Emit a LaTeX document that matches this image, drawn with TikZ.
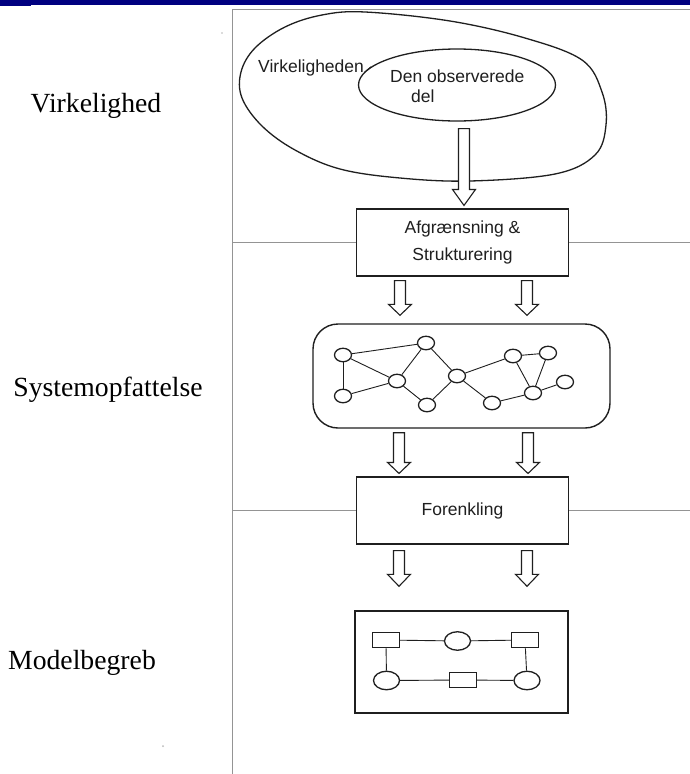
\documentclass[tikz,border=0pt]{standalone}
\usepackage{fontspec}
\setmainfont{Liberation Serif}
\newfontfamily\diagfont{Liberation Sans}
\usetikzlibrary{shapes.geometric,calc}

\definecolor{barnavy}{RGB}{0,0,128}
\definecolor{framegray}{gray}{0.58}
\definecolor{inkgray}{gray}{0.12}

\tikzset{
  sidelabel/.style={font=\fontsize{27.7}{32}\selectfont, inner sep=0},
  diagtext/.style={font=\diagfont\fontsize{17.5}{27}\selectfont, inner sep=0, text=inkgray},
  stagebox/.style={rectangle, draw=inkgray, line width=1.1, minimum width=212, minimum height=67, inner sep=0},
  frameline/.style={draw=framegray, line width=1},
  ink/.style={draw=inkgray, line width=1.3},
  gnode/.style={ellipse, draw=inkgray, line width=1.3, minimum width=17, minimum height=13.5, inner sep=0},
  gedge/.style={draw=inkgray, line width=0.9},
  mrect/.style={rectangle, draw=inkgray, line width=1.3, minimum width=26.5, minimum height=15.5, inner sep=0},
  mcirc/.style={ellipse, draw=inkgray, line width=1.3, minimum width=26, minimum height=18.5, inner sep=0},
  arrowline/.style={draw=inkgray, line width=1.1, fill=white, line join=miter},
  speck/.style={fill=gray!55},
}

% hollow block arrow from start coordinate #1 down to tip coordinate #2, head length #3
\newcommand\blockarrow[3]{%
  \draw[arrowline] let \p1=(#1), \p2=(#2) in
    (\x1-5.5pt,\y1) -- (\x1+5.5pt,\y1) -- (\x1+5.5pt,\y2+#3pt) -- (\x1+11.5pt,\y2+#3pt)
    -- (\x1,\y2) -- (\x1-11.5pt,\y2+#3pt) -- (\x1-5.5pt,\y2+#3pt) -- cycle;}

\begin{document}
\begin{tikzpicture}[x=1pt,y=-1pt]
  \useasboundingbox (0,0) rectangle (690,774);
  \fill[white] (0,0) rectangle (690,774);
  % title bar strip
  \fill[barnavy] (0,0) rectangle (690,4.5);
  \fill[barnavy] (0,0) rectangle (31,6);

  % frame
  \coordinate (ftl) at (232,9);
  \coordinate (ftr) at (690,9);
  \coordinate (fbl) at (232,774);
  \draw[frameline] (ftr) -- (ftl) -- (fbl);

  % level labels
  \node[sidelabel] (lblV) at (96,106) {Virkelighed};
  \node[sidelabel] (lblS) at (108,390) {Systemopfattelse};
  \node[sidelabel] (lblM) at (82,663) {Modelbegreb};

  % reality and the observed part
  \draw[ink] plot[smooth cycle, tension=0.6] coordinates {
    (365,12) (450,21) (525,38) (582,60) (602,92) (606,125) (595,155)
    (555,174) (470,181) (400,178) (340,169) (295,150) (262,126)
    (242,98) (241,72) (255,48) (285,27) (322,15)};
  \node[ellipse, ink, minimum width=197, minimum height=72, inner sep=0] (obs) at (457,85) {};
  \node[diagtext, anchor=west] (vtext) at (258,68) {Virkeligheden};
  \draw[gedge] (vtext.base east) -- (obs.168);
  \node[diagtext, anchor=west] (dtext1) at (390,76) {Den observerede};
  \node[diagtext, anchor=west] (dtext2) at (411,96) {del};

  % stage boxes
  \node[stagebox, diagtext, align=center] (box1) at (462.5,242.5) {Afgrænsning \&\\Strukturering};
  \node[stagebox, diagtext] (box2) at (462.5,510.5) {Forenkling};

  % level separators
  \draw[frameline] (ftl |- box1.west) -- (box1.west);
  \draw[frameline] (box1.east) -- (box1.east -| ftr);
  \draw[frameline] (ftl |- box2.west) -- (box2.west);
  \draw[frameline] (box2.east) -- (box2.east -| ftr);

  % system view: network of elements
  \node[draw=inkgray, line width=1.4, rounded corners=25, minimum width=297, minimum height=104] (sys) at (461.5,376) {};
  \node[gnode] (g1)  at (343,355) {};
  \node[gnode] (g2)  at (426,343) {};
  \node[gnode] (g3)  at (397,381) {};
  \node[gnode] (g4)  at (343,396) {};
  \node[gnode] (g5)  at (427,405) {};
  \node[gnode] (g6)  at (457,376) {};
  \node[gnode] (g7)  at (513,356) {};
  \node[gnode] (g8)  at (548,353) {};
  \node[gnode] (g9)  at (492,403) {};
  \node[gnode] (g10) at (533,393) {};
  \node[gnode] (g11) at (565,382) {};
  \foreach \a/\b in {g1/g2, g1/g3, g1/g4, g4/g3, g3/g2, g3/g5, g2/g6, g5/g6,
                     g6/g7, g6/g9, g7/g8, g7/g10, g8/g10, g9/g10, g10/g11}
    \draw[gedge] (\a) -- (\b);

  % model concept
  \node[rectangle, draw=inkgray, line width=1.4, minimum width=213, minimum height=102] (mod) at (461.5,662) {};
  \node[mrect] (m1) at (386,640) {};
  \node[mcirc] (m2) at (457.5,641) {};
  \node[mrect] (m3) at (525,640) {};
  \node[mcirc] (m4) at (386.5,680.5) {};
  \node[mrect] (m5) at (463,680) {};
  \node[mcirc] (m6) at (527,680.5) {};
  \draw[gedge] (m1) -- (m2);
  \draw[gedge] (m2) -- (m3);
  \draw[gedge] (m1) -- (m4);
  \draw[gedge] (m3) -- (m6);
  \draw[gedge] (m4) -- (m5);
  \draw[gedge] (m5) -- (m6);

  % block arrows between the stages
  \path (464,0 |- obs.south) ++(0,7) coordinate (a0s);
  \path (464,0 |- box1.north) ++(0,-3) coordinate (a0t);
  \blockarrow{a0s}{a0t}{16}
  \foreach \xx/\nm in {400/a, 527/b}{
    \path (\xx,0 |- box1.south) ++(0,4) coordinate (s1\nm);
    \path (\xx,0 |- sys.north) ++(0,-8) coordinate (t1\nm);
    \blockarrow{s1\nm}{t1\nm}{11}
  }
  \foreach \xx/\nm in {399/a, 528/b}{
    \path (\xx,0 |- sys.south) ++(0,4) coordinate (s2\nm);
    \path (\xx,0 |- box2.north) ++(0,-3) coordinate (t2\nm);
    \blockarrow{s2\nm}{t2\nm}{11}
  }
  \foreach \xx/\nm in {399/a, 527/b}{
    \path (\xx,0 |- box2.south) ++(0,6) coordinate (s3\nm);
    \path (\xx,0 |- mod.north) ++(0,-24) coordinate (t3\nm);
    \blockarrow{s3\nm}{t3\nm}{12}
  }

  % specks on the scanned page
  \fill[speck] (163,746) circle (1);
  \fill[speck] (222,33) circle (0.8);
\end{tikzpicture}
\end{document}
